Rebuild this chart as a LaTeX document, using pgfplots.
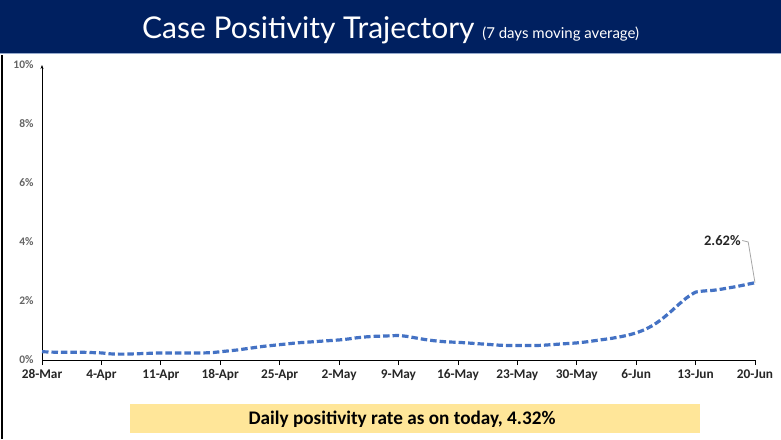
\documentclass[border=0pt]{standalone}
\usepackage{fontspec}
\setmainfont{Carlito}
\newfontfamily\titlefont{Lato}
\usepackage{pgfplots}
\pgfplotsset{compat=1.18}
\usetikzlibrary{arrows.meta}
\definecolor{navy}{RGB}{0,32,96}
\definecolor{lineblue}{RGB}{68,114,196}
\definecolor{boxyellow}{RGB}{255,230,153}
\definecolor{ticklab}{RGB}{100,100,100}
\definecolor{darktext}{RGB}{38,38,38}
\definecolor{leader}{RGB}{165,165,165}
\begin{document}
\begin{tikzpicture}[x=1pt,y=1pt]
\useasboundingbox (0,0) rectangle (781,-439);
\fill[white] (0,0) rectangle (781,-439);
\fill[navy] (0,0) rectangle (781,-53);
\draw[color={rgb,255:red,150;green,170;blue,205},line width=1.5] (0,-53.5) -- (781,-53.5);
\draw[black, line width=1.2] (2,-55) -- (2,-439);
\node[anchor=base west, white, inner sep=0] at (142,-38) {\titlefont\fontsize{30}{30}\selectfont Case Positivity Trajectory\ \fontsize{15}{15}\selectfont (7 days moving average)};
\fill[boxyellow] (130,-404) rectangle (700,-433);
\node[text=black, inner sep=0] at (402,-419) {\bfseries\fontsize{19.2}{19.2}\selectfont Daily positivity rate as on today, 4.32\%};
\begin{axis}[
  at={(42pt,-360pt)}, anchor=south west,
  scale only axis, width=713pt, height=295pt,
  xmin=0, xmax=84, ymin=0, ymax=10,
  axis x line*=bottom, axis y line*=left,
  x axis line style={-, black, line width=0.8pt},
  y axis line style={-{Stealth[length=4pt,width=3pt]}, black, line width=0.8pt},
  xtick={0,7,...,84},
  xticklabels={28-Mar,4-Apr,11-Apr,18-Apr,25-Apr,2-May,9-May,16-May,23-May,30-May,6-Jun,13-Jun,20-Jun},
  xtick align=outside, major tick length=5pt,
  xtick style={black, line width=0.8pt},
  xticklabel style={font=\bfseries\fontsize{13.3}{13.3}\selectfont, text=darktext, yshift=-1pt},
  ytick={0,2,4,6,8,10},
  yticklabels={0\%,2\%,4\%,6\%,8\%,10\%},
  ytick style={draw=none},
  yticklabel style={font=\bfseries\fontsize{11.5}{11.5}\selectfont, text=ticklab, xshift=-5pt},
  clip=false,
]
\addplot[lineblue, line width=3.2pt, dash pattern=on 6.5pt off 3pt, smooth, tension=0.3] coordinates {
(0,0.28)(1,0.27)(2,0.26)(3,0.26)(4,0.26)(5,0.26)(6,0.25)(7,0.24)(8,0.21)(9,0.20)
(10,0.20)(11,0.21)(12,0.22)(13,0.23)(14,0.24)(15,0.24)(16,0.24)(17,0.24)(18,0.24)(19,0.24)
(20,0.25)(21,0.28)(22,0.31)(23,0.34)(24,0.38)(25,0.42)(26,0.46)(27,0.49)(28,0.52)(29,0.55)
(30,0.58)(31,0.60)(32,0.62)(33,0.64)(34,0.66)(35,0.68)(36,0.71)(37,0.75)(38,0.78)(39,0.80)
(40,0.81)(41,0.82)(42,0.83)(43,0.80)(44,0.75)(45,0.70)(46,0.66)(47,0.63)(48,0.61)(49,0.60)
(50,0.58)(51,0.56)(52,0.54)(53,0.52)(54,0.50)(55,0.49)(56,0.49)(57,0.49)(58,0.49)(59,0.50)
(60,0.52)(61,0.54)(62,0.56)(63,0.58)(64,0.61)(65,0.65)(66,0.69)(67,0.73)(68,0.78)(69,0.84)
(70,0.92)(71,1.03)(72,1.18)(73,1.38)(74,1.62)(75,1.88)(76,2.12)(77,2.30)(78,2.34)(79,2.36)
(80,2.40)(81,2.45)(82,2.50)(83,2.56)(84,2.62)
};
\draw[leader, line width=0.8pt] (axis cs:84,2.62) -- (axis cs:83.2,4.0) -- (axis cs:82.5,4.05);
\node[anchor=east, inner sep=1.5pt, text=darktext] at (axis cs:82.5,4.05) {\bfseries\fontsize{14.5}{14.5}\selectfont 2.62\%};
\end{axis}
\end{tikzpicture}
\end{document}
